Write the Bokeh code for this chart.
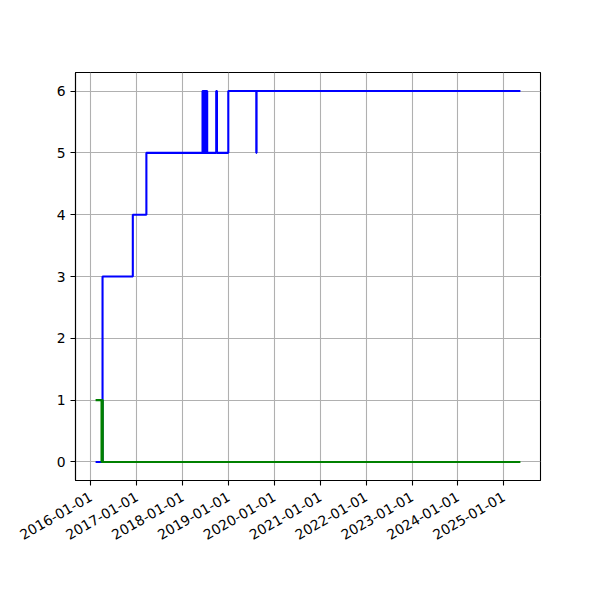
import math
import pandas as pd
from bokeh.plotting import figure
from bokeh.models import Range1d, FixedTicker, DatetimeTickFormatter
from bokeh.embed import file_html
from bokeh.resources import INLINE

# ---- data ----
blue_dates = [
    "2016-02-16", "2016-04-03", "2016-11-30", "2017-03-18",
    "2018-06-08", "2018-06-11", "2018-06-14", "2018-06-17", "2018-06-21", "2018-06-24",
    "2018-06-28", "2018-07-01", "2018-07-05", "2018-07-08", "2018-07-12", "2018-07-15",
    "2018-09-25", "2018-10-01", "2018-12-30", "2019-08-10", "2019-08-12", "2025-05-04",
]
blue_values = [
    0, 3, 4, 5,
    6, 5, 6, 5, 6, 5,
    6, 5, 6, 5, 6, 5,
    6, 5, 6, 5, 6, 6,
]
green_dates = [
    "2016-02-16", "2016-03-26", "2016-03-29", "2016-04-01",
    "2016-04-03", "2016-04-05", "2025-05-04",
]
green_values = [1, 0, 1, 0, 1, 0, 0]

x_tick_dates = [
    "2016-01-01", "2017-01-01", "2018-01-01", "2019-01-01", "2020-01-01",
    "2021-01-01", "2022-01-01", "2023-01-01", "2024-01-01", "2025-01-01",
]
y_ticks = [0, 1, 2, 3, 4, 5, 6]

# ---- conversion ----
bx = pd.to_datetime(blue_dates)
gx = pd.to_datetime(green_dates)
ticks_ms = [pd.Timestamp(d).value / 1e6 for d in x_tick_dates]

all_ms = [t.value / 1e6 for t in list(bx) + list(gx)]
all_y = blue_values + green_values
xmin, xmax = min(all_ms), max(all_ms)
xm = 0.05 * (xmax - xmin)
ymin, ymax = min(all_y), max(all_y)
ym = 0.05 * (ymax - ymin)

FONT = "DejaVu Sans"

p = figure(
    x_axis_type="datetime",
    frame_width=465, frame_height=408,
    min_border_left=75, min_border_top=72, min_border_right=50, min_border_bottom=70,
    x_range=Range1d(xmin - xm, xmax + xm),
    y_range=Range1d(ymin - ym, ymax + ym),
    output_backend="svg", toolbar_location=None,
    background_fill_color="white", border_fill_color="white",
)

p.step(bx, blue_values, mode="after", line_color="blue", line_width=2.1, line_cap="square")
p.step(gx, green_values, mode="after", line_color="green", line_width=2.1, line_cap="square")

p.xaxis.ticker = FixedTicker(ticks=ticks_ms)
fmt = "%Y-%m-%d"
p.xaxis.formatter = DatetimeTickFormatter(
    years=fmt, months=fmt, days=fmt, hours=fmt, minutes=fmt, seconds=fmt,
    milliseconds=fmt, microseconds=fmt, hourmin=fmt, minsec=fmt,
)
p.xaxis.major_label_orientation = math.pi / 6
p.yaxis.ticker = FixedTicker(ticks=y_ticks)

for ax in (p.xaxis, p.yaxis):
    ax.major_label_text_font = FONT
    ax.major_label_text_font_size = "13.9px"
    ax.major_label_text_color = "black"
    ax.major_tick_line_color = "black"
    ax.major_tick_line_width = 1.1
    ax.major_tick_out = 5
    ax.major_tick_in = 0
    ax.minor_tick_line_color = None
    ax.axis_line_color = "black"
    ax.axis_line_width = 1.1
    ax.major_label_standoff = 5

p.xaxis.major_label_standoff = 10

p.grid.grid_line_color = "#b0b0b0"
p.grid.grid_line_width = 1.1
p.outline_line_color = "black"
p.outline_line_width = 1.1
p.outline_line_alpha = 1.0

open("out.html", "w").write(file_html(p, INLINE))
